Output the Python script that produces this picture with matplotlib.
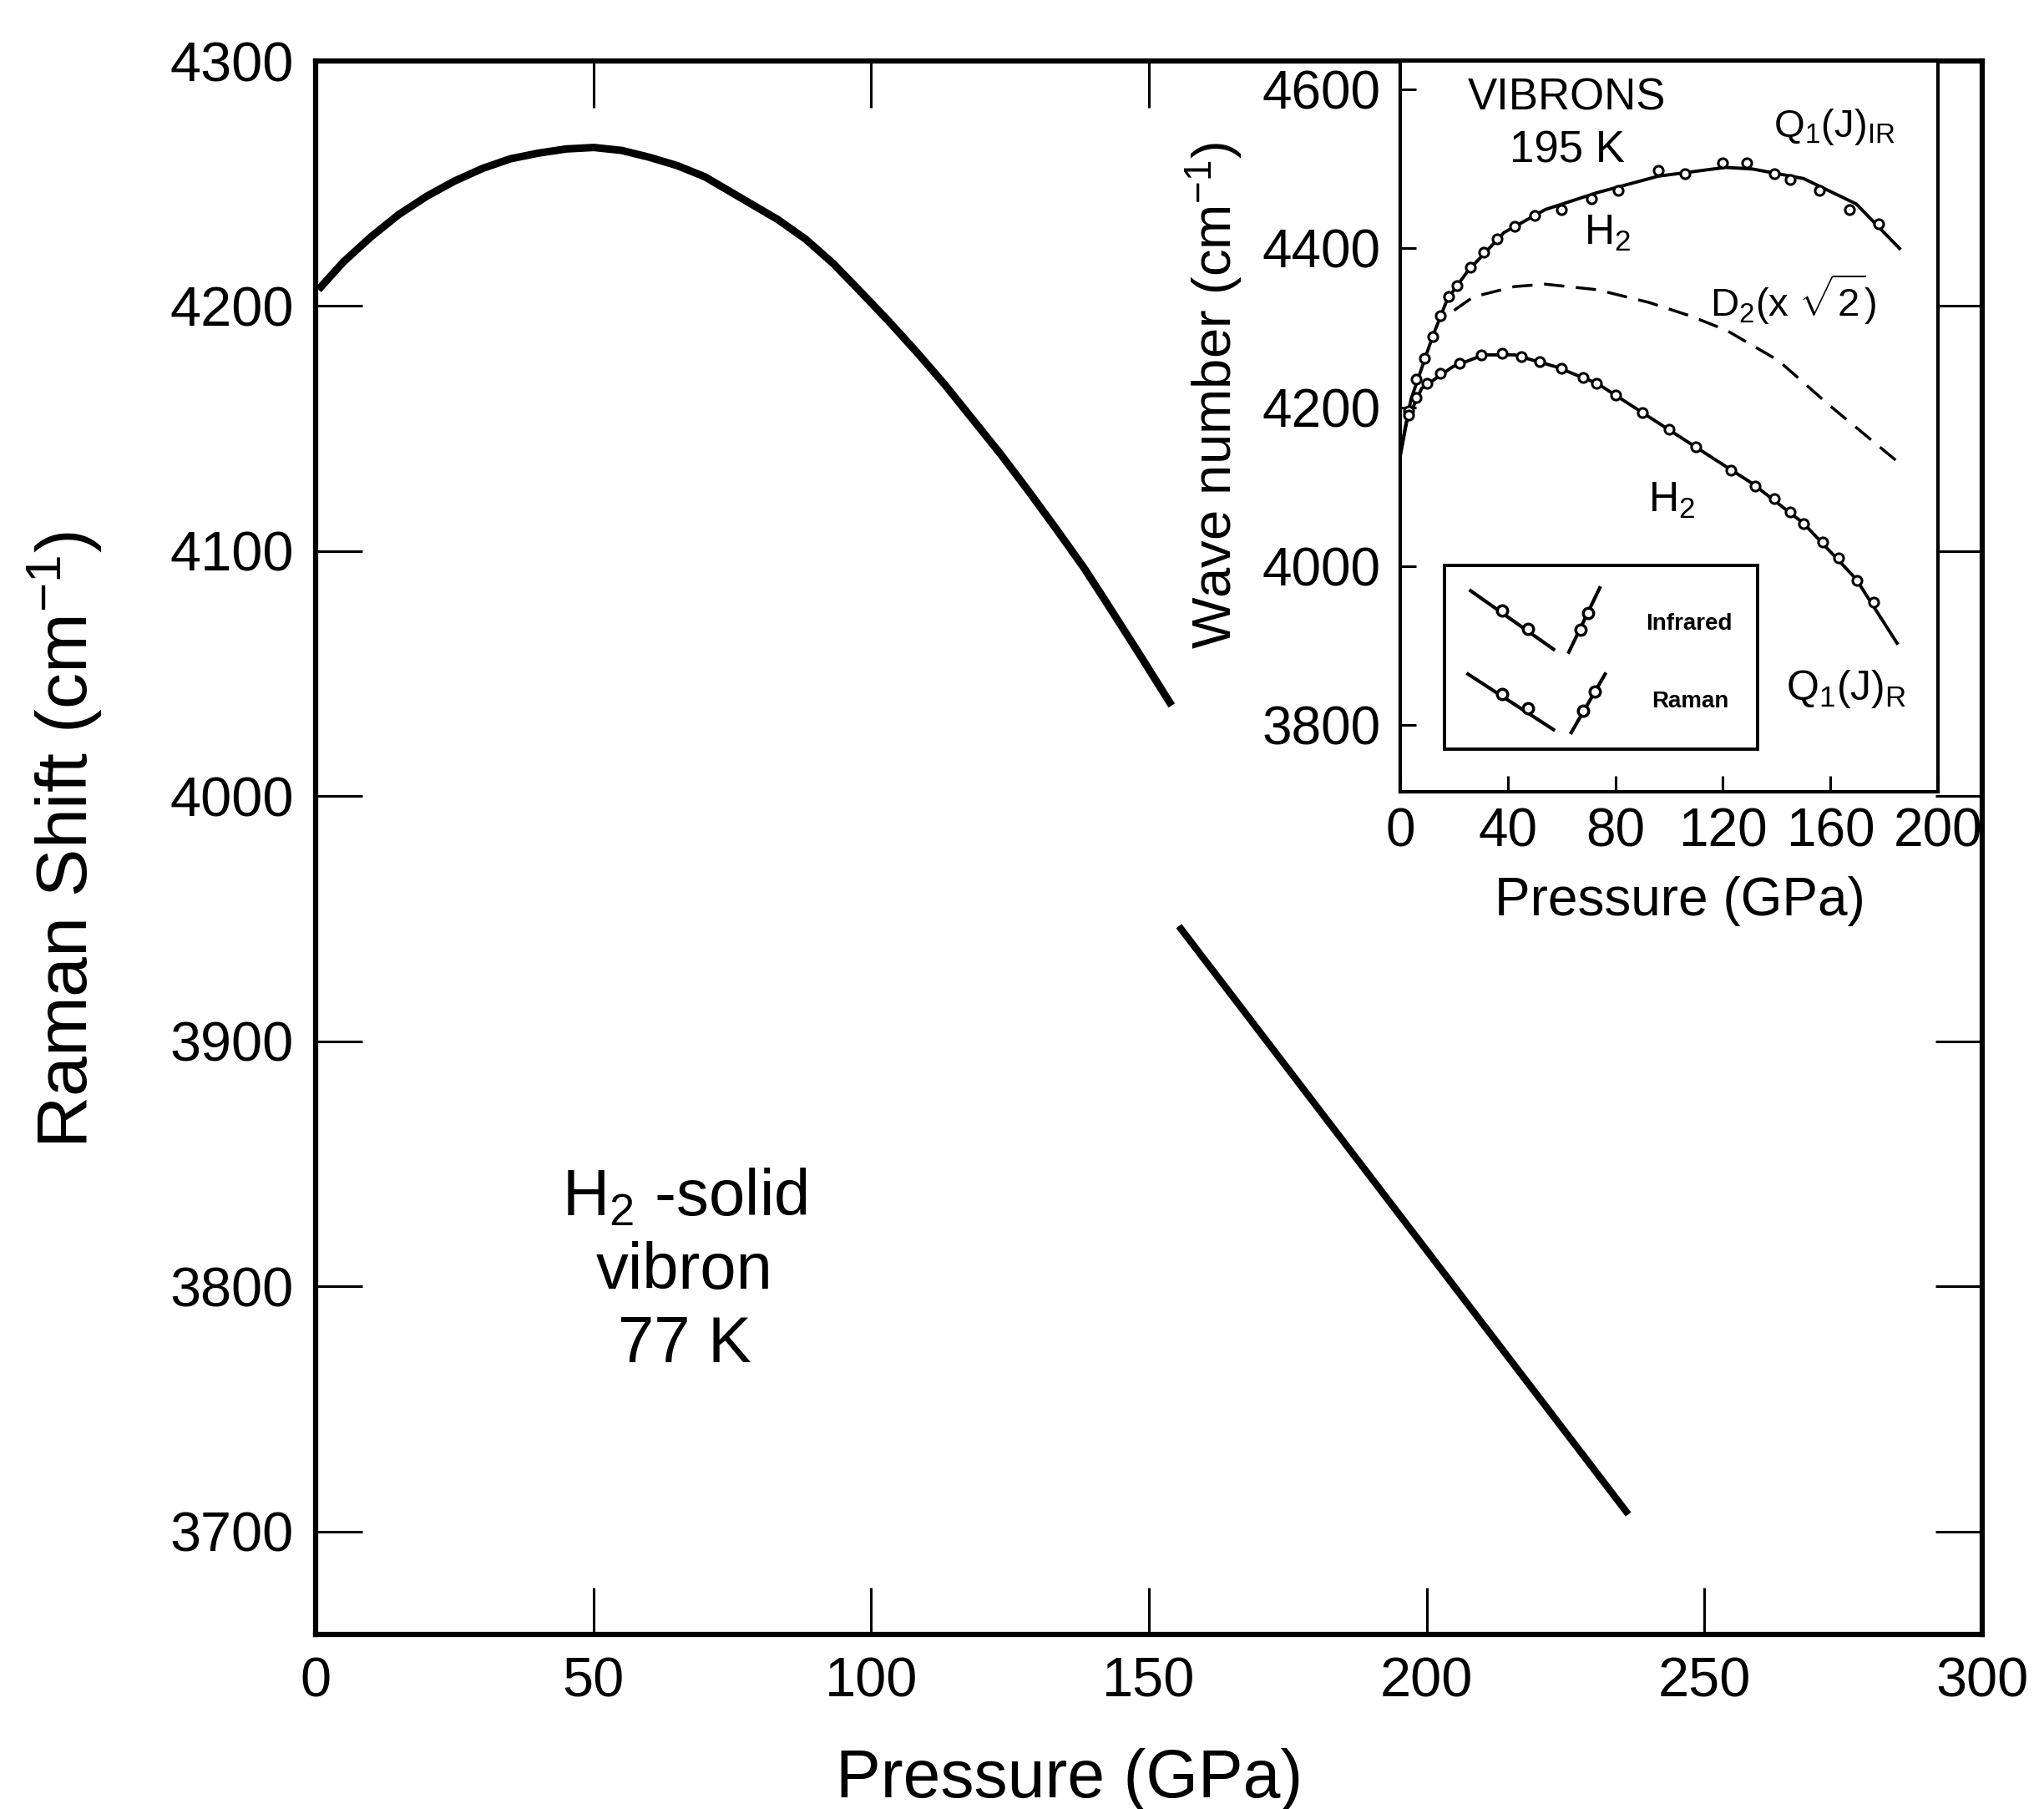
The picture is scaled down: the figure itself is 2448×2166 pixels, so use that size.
import matplotlib
matplotlib.use('Agg')
import matplotlib.pyplot as plt
from matplotlib.patches import Rectangle

plt.rcParams['font.family'] = ['Liberation Sans', 'DejaVu Sans']
plt.rcParams['mathtext.fontset'] = 'custom'
plt.rcParams['mathtext.rm'] = 'Liberation Sans'
plt.rcParams['mathtext.it'] = 'Liberation Sans:italic'
plt.rcParams['mathtext.bf'] = 'Liberation Sans:bold'
plt.rcParams['mathtext.default'] = 'regular'

# ---------------- main panel data (77 K vibron) ----------------
main_p1 = [0.5, 5.0, 10.0, 15.0, 20.0, 25.0, 30.1, 35.1, 40.1, 45.1, 50.1, 55.1,
           60.1, 65.1, 70.1, 77.7, 83.2, 88.2, 93.2, 98.2, 103.2, 108.2, 113.2,
           118.2, 123.3, 128.3, 133.3, 138.3, 141.8, 148.0, 154.1]
main_v1 = [4206.7, 4218.0, 4228.3, 4237.4, 4244.8, 4251.0, 4256.2, 4260.1, 4262.4,
           4264.1, 4264.7, 4263.5, 4260.7, 4257.3, 4252.7, 4242.6, 4235.3, 4227.3,
           4217.3, 4205.6, 4193.7, 4181.2, 4168.1, 4154.0, 4139.6, 4124.6, 4109.1,
           4093.2, 4081.0, 4059.0, 4037.0]
main_p2 = [155.4, 236.3]
main_v2 = [3947.0, 3707.0]

main_xticks = [0, 50, 100, 150, 200, 250, 300]
main_yticks = [3700, 3800, 3900, 4000, 4100, 4200, 4300]

# ---------------- inset data (195 K vibrons) ----------------
ir_curve_p = [0, 4, 11.8, 17.5, 25, 38.6, 54, 73, 96, 121, 131, 150, 169.6, 185.7]
ir_curve_v = [4139, 4210, 4287, 4336, 4371, 4420, 4449, 4470, 4491, 4502, 4500, 4488, 4456, 4400]
ir_pts_p = [3, 6, 9, 12, 15, 18, 21, 26, 31, 36, 42.5, 50, 60, 71, 81, 96, 106, 120,
            129, 139, 145, 156, 167, 178]
ir_pts_v = [4195, 4235, 4262, 4289, 4315, 4339, 4353, 4376, 4395, 4412, 4428, 4441,
            4449, 4463, 4473, 4498, 4494, 4508, 4508, 4494, 4487, 4473, 4449, 4431]

d2_p = [20, 27.2, 42.5, 54, 73.3, 92.5, 107.9, 121.3, 140.6, 159.8, 184.8]
d2_v = [4322, 4339, 4352, 4355, 4348, 4332, 4315, 4297, 4259, 4202, 4132]

ram_curve_p = [0, 2.2, 8, 19.5, 31, 42.5, 57.9, 73.3, 92.5, 111.7, 131, 150, 169.5, 184.8]
ram_curve_v = [4140, 4181, 4224, 4251, 4266, 4266, 4251, 4230, 4188, 4146, 4104, 4054, 3984, 3903]
ram_pts_p = [3, 6, 10, 15, 22, 30, 38, 45, 52, 60, 68, 73, 80, 90, 100, 110, 123, 132,
             139, 145, 150, 157, 163, 170, 176]
ram_pts_v = [4190, 4212, 4230, 4243, 4255, 4266, 4268, 4264, 4258, 4249, 4238, 4230,
             4215, 4193, 4172, 4150, 4121, 4101, 4085, 4068, 4054, 4030, 4010, 3982, 3955]

inset_xticks = [0, 40, 80, 120, 160, 200]
inset_yticks = [3800, 4000, 4200, 4400, 4600]

# ---------------- figure ----------------
W, H = 2448, 2166
fig = plt.figure(figsize=(W / 100, H / 100), dpi=100)

ax = fig.add_axes([378 / W, 1 - 1957 / H, 1996 / W, 1884 / H])
ax.plot(main_p1, main_v1, color='black', lw=6.5, solid_capstyle='butt',
        solid_joinstyle='round')
ax.plot(main_p2, main_v2, color='black', lw=6.0, solid_capstyle='butt')
ax.set_xlim(0, 300)
ax.set_ylim(3658, 4300)
ax.set_xticks(main_xticks)
ax.set_yticks(main_yticks)
ax.tick_params(direction='in', length=40, width=2.2, top=True, right=True,
               labelsize=48, pad=19)
for s in ax.spines.values():
    s.set_linewidth(4.5)
ax.set_xlabel('Pressure (GPa)', fontsize=58)
ax.xaxis.set_label_coords(0.452, -0.072)
ax.set_ylabel('Raman Shift (cm$^{-1}$)', fontsize=62)
ax.yaxis.set_label_coords(-0.127, 0.505)
ax.text(66.4, 3806, 'H$_2$ -solid\nvibron\n77 K', fontsize=56, ha='center',
        va='center', multialignment='center', linespacing=1.25)

# ---------------- inset ----------------
ax2 = fig.add_axes([1677 / W, 1 - 948 / H, 644 / W, 875 / H])
ax2.set_facecolor('white')
ax2.plot(ir_curve_p, ir_curve_v, color='black', lw=2.8, solid_joinstyle='round')
ax2.plot(ram_curve_p, ram_curve_v, color='black', lw=2.8, solid_joinstyle='round')
ax2.plot(d2_p, d2_v, color='black', lw=2.5, dashes=(7, 4))
ax2.plot(ir_pts_p, ir_pts_v, ls='none', marker='o', ms=8, mfc='white',
         mec='black', mew=2.2)
ax2.plot(ram_pts_p, ram_pts_v, ls='none', marker='o', ms=8, mfc='white',
         mec='black', mew=2.2)
ax2.set_xlim(0, 200)
ax2.set_ylim(3716, 4636)
ax2.set_xticks(inset_xticks)
ax2.set_yticks(inset_yticks)
ax2.tick_params(direction='in', length=14, width=2.2, labelsize=46)
ax2.tick_params(axis='y', pad=17)
ax2.tick_params(axis='x', pad=13)
for s in ax2.spines.values():
    s.set_linewidth(3.0)
ax2.set_xlabel('Pressure (GPa)', fontsize=46)
ax2.xaxis.set_label_coords(0.52, -0.115)
ax2.set_ylabel('Wave number (cm$^{-1}$)', fontsize=47)
ax2.yaxis.set_label_coords(-0.289, 0.542)

ax2.text(62, 4589, 'VIBRONS', fontsize=38, ha='center', va='center')
ax2.text(62, 4523, '195 K', fontsize=38, ha='center', va='center')
ax2.text(161.5, 4553, 'Q$_1$(J)$_{IR}$', fontsize=34, ha='center', va='center')
ax2.text(77, 4419, 'H$_2$', fontsize=36, ha='center', va='center')
ax2.text(146, 4336, 'D$_2$(x $\\sqrt{2}$)', fontsize=34, ha='center', va='center')
ax2.text(101, 4083, 'H$_2$', fontsize=36, ha='center', va='center')
ax2.text(166, 3845, 'Q$_1$(J)$_R$', fontsize=36, ha='center', va='center')

# legend box of the inset
T = ax2.transAxes
ax2.add_patch(Rectangle((0.082, 0.058), 0.582, 0.252, transform=T, fill=False,
                        lw=2.8, ec='black'))
kw = dict(transform=T, color='black', lw=3.0)
mk = dict(transform=T, ls='none', marker='o', ms=9, mfc='white', mec='black', mew=2.5)
# Infrared row
ax2.plot([0.131, 0.285], [0.275, 0.195], **kw)
ax2.plot([0.189, 0.237], [0.248, 0.223], **mk)
ax2.plot([0.3135, 0.371], [0.191, 0.279], **kw)
ax2.plot([0.335, 0.350], [0.222, 0.245], **mk)
ax2.text(0.537, 0.230, 'Infrared', transform=T, fontsize=20, fontweight='bold',
         ha='center', va='center')
# Raman row
ax2.plot([0.126, 0.285], [0.161, 0.085], **kw)
ax2.plot([0.189, 0.237], [0.134, 0.114], **mk)
ax2.plot([0.318, 0.381], [0.081, 0.161], **kw)
ax2.plot([0.340, 0.362], [0.111, 0.137], **mk)
ax2.text(0.5395, 0.123, 'Raman', transform=T, fontsize=20, fontweight='bold',
         ha='center', va='center')

fig.savefig('out.png', dpi=100)
